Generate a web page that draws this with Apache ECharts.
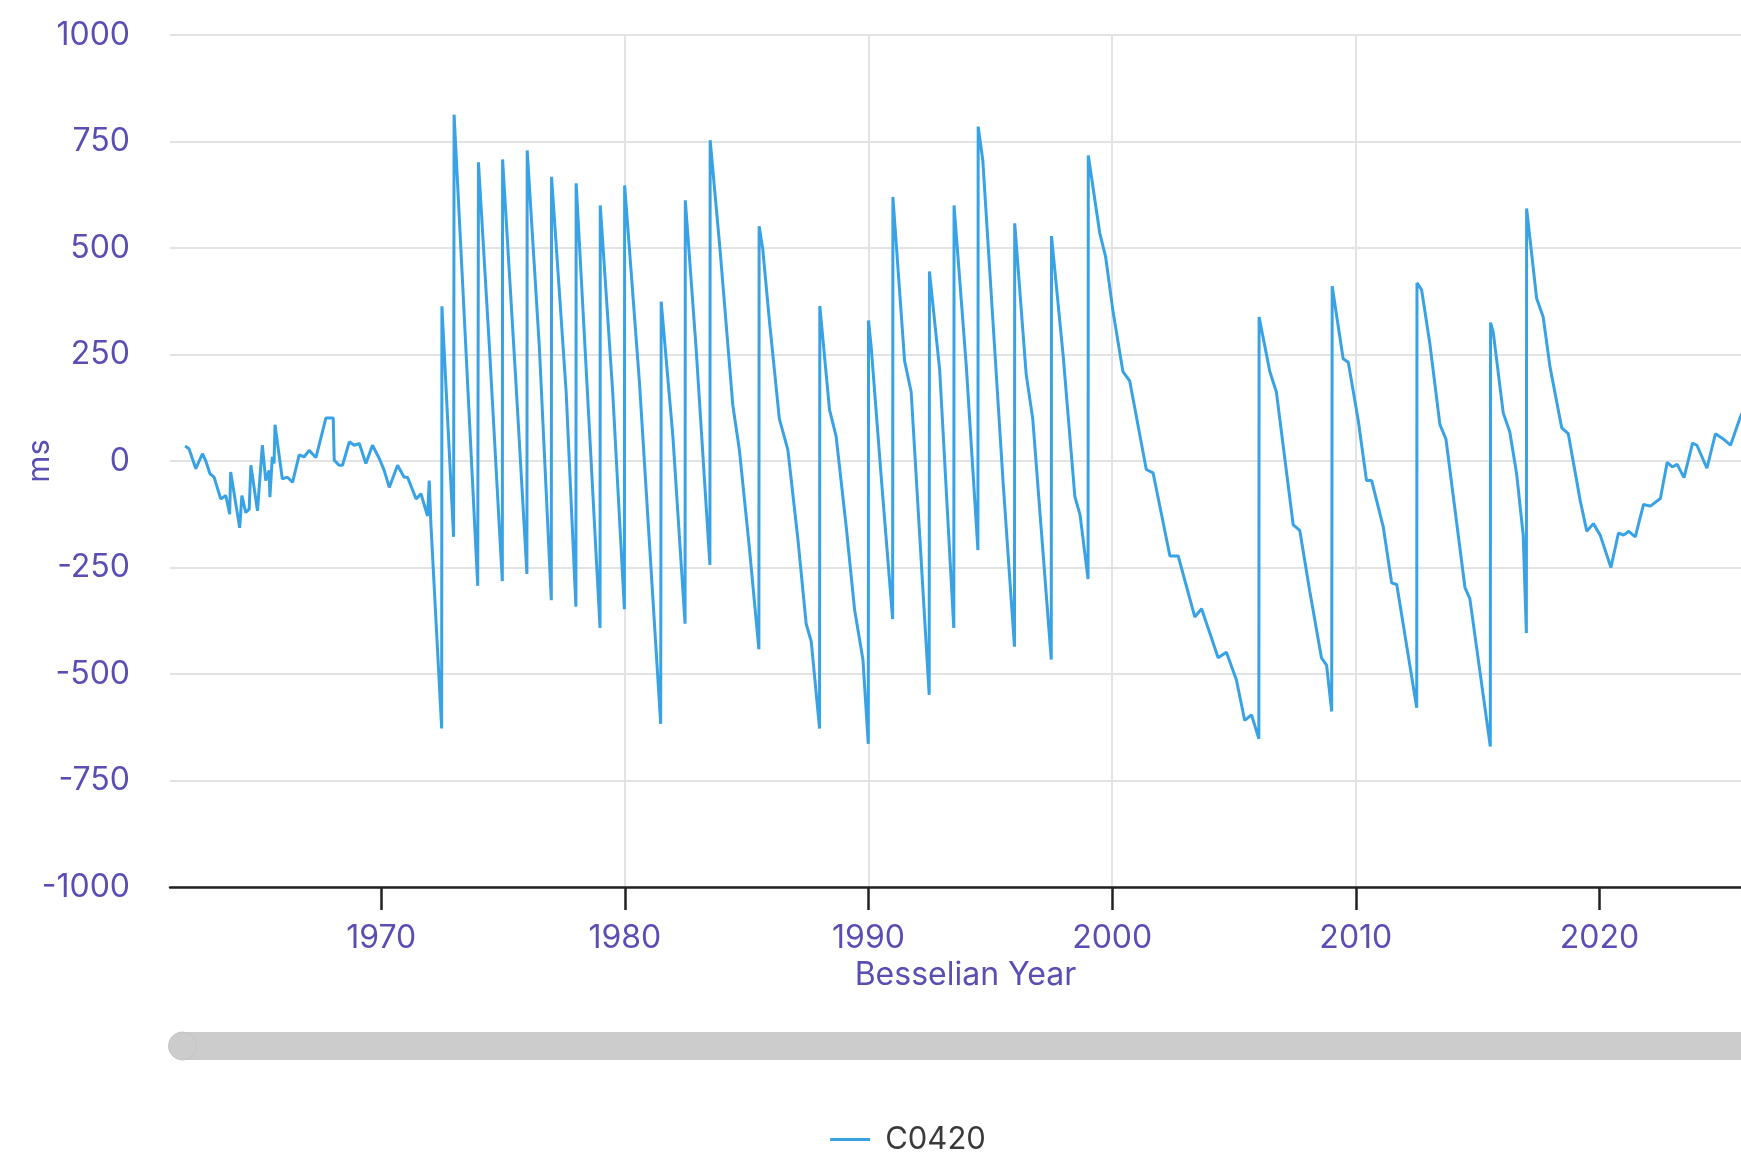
<!DOCTYPE html>
<html>
<head>
<meta charset="utf-8">
<title>UT1-UTC (C0420)</title>
<script src="https://cdn.jsdelivr.net/npm/echarts@6/dist/echarts.min.js"></script>
<style>
  html, body { margin: 0; padding: 0; background: #ffffff; overflow: hidden; }
  #chart { width: 1816px; height: 1152px; }
</style>
</head>
<body>
<div id="chart"></div>
<script>
// Besselian year of each sample
const years = [
  1961.95, 1962.11, 1962.39, 1962.66, 1962.80, 1962.97, 1963.14, 1963.41, 1963.62, 1963.78,
  1963.82, 1964.19, 1964.28, 1964.44, 1964.58, 1964.65, 1964.92, 1965.12, 1965.26, 1965.40,
  1965.43, 1965.53, 1965.60, 1965.64, 1965.94, 1966.15, 1966.36, 1966.63, 1966.84, 1967.04,
  1967.32, 1967.73, 1968.03, 1968.07, 1968.27, 1968.41, 1968.69, 1968.89, 1969.10, 1969.37,
  1969.64, 1969.92, 1970.12, 1970.33, 1970.67, 1970.94, 1971.08, 1971.43, 1971.63, 1971.90,
  1971.97, 1972.04, 1972.48, 1972.49, 1972.97, 1972.99, 1973.27, 1973.96, 1973.99, 1974.44,
  1974.97, 1974.98, 1975.53, 1975.98, 1975.99, 1976.49, 1976.98, 1976.99, 1977.59, 1977.99,
  1978.00, 1978.54, 1978.98, 1978.99, 1979.50, 1979.98, 1979.99, 1980.60, 1981.47, 1981.49,
  1981.97, 1982.47, 1982.48, 1982.92, 1983.49, 1983.50, 1983.90, 1984.43, 1984.70, 1985.11,
  1985.50, 1985.51, 1985.66, 1985.93, 1986.34, 1986.69, 1987.10, 1987.44, 1987.65, 1987.99,
  1988.00, 1988.40, 1988.67, 1989.08, 1989.43, 1989.77, 1989.99, 1990.00, 1990.11, 1990.52,
  1990.99, 1991.00, 1991.48, 1991.75, 1992.49, 1992.50, 1992.92, 1993.50, 1993.51, 1994.01,
  1994.49, 1994.50, 1994.69, 1995.52, 1995.99, 1996.00, 1996.47, 1996.74, 1997.50, 1997.51,
  1997.99, 1998.47, 1998.68, 1999.01, 1999.02, 1999.49, 1999.73, 2000.03, 2000.44, 2000.72,
  2001.06, 2001.40, 2001.68, 2002.37, 2002.71, 2003.39, 2003.67, 2004.35, 2004.69, 2005.10,
  2005.44, 2005.72, 2006.02, 2006.03, 2006.47, 2006.74, 2007.43, 2007.70, 2008.11, 2008.59,
  2008.80, 2009.01, 2009.03, 2009.48, 2009.69, 2010.10, 2010.44, 2010.65, 2011.13, 2011.47,
  2011.68, 2012.50, 2012.51, 2012.70, 2013.04, 2013.45, 2013.70, 2014.48, 2014.68, 2015.52,
  2015.53, 2015.64, 2016.05, 2016.32, 2016.60, 2016.87, 2017.00, 2017.01, 2017.42, 2017.69,
  2017.97, 2018.45, 2018.72, 2019.21, 2019.48, 2019.75, 2020.03, 2020.47, 2020.78, 2020.99,
  2021.20, 2021.47, 2021.81, 2022.09, 2022.50, 2022.78, 2022.99, 2023.19, 2023.47, 2023.82,
  2024.00, 2024.41, 2024.76, 2025.10, 2025.38, 2025.76, 2025.85
];

// UT1-UTC in milliseconds, one value per year above
const offsetMs = [
  35, 29, -18, 17, 0, -30, -38, -89, -81, -125,
  -26, -157, -81, -121, -113, -10, -117, 37, -46, -22,
  -85, 10, -6, 85, -42, -38, -50, 14, 10, 25,
  8, 101, 101, 2, -10, -10, 45, 37, 41, -6,
  37, 6, -22, -62, -10, -38, -38, -89, -77, -129,
  -46, -150, -628, 363, -178, 813, 497, -293, 701, 267,
  -282, 708, 183, -265, 729, 267, -327, 667, 162, -342,
  652, 79, -392, 600, 162, -348, 647, 183, -617, 374,
  58, -382, 612, 267, -244, 753, 500, 131, 26, -204,
  -442, 551, 497, 330, 99, 26, -183, -382, -424, -628,
  364, 120, 58, -152, -350, -466, -664, 330, 267, -37,
  -371, 620, 235, 162, -549, 445, 214, -392, 600, 225,
  -209, 785, 706, -47, -436, 558, 204, 99, -466, 528,
  246, -84, -126, -277, 717, 535, 480, 353, 210, 188,
  84, -20, -28, -223, -223, -366, -347, -462, -449, -514,
  -609, -596, -652, 338, 210, 162, -150, -163, -306, -462,
  -479, -588, 410, 240, 232, 95, -46, -46, -156, -286,
  -290, -579, 418, 402, 275, 86, 51, -297, -323, -670,
  325, 302, 113, 68, -30, -174, -404, 593, 382, 338,
  221, 78, 64, -93, -165, -147, -174, -250, -169, -174,
  -165, -178, -102, -106, -88, -3, -14, -8, -39, 42,
  37, -17, 64, 51, 37, 100, 112
];

// Labelled years on the horizontal axis
const yearTicks = [1970, 1980, 1990, 2000, 2010, 2020];

const seriesName = 'C0420';
const axisColor = '#5a4db3';
const lineColor = '#38a2e5';
const fontFamily = 'Inter, "Noto Sans", sans-serif';

const points = years.map((y, i) => [y, offsetMs[i]]);

const chart = echarts.init(document.getElementById('chart'), null, { renderer: 'canvas' });

chart.setOption({
  animation: false,
  backgroundColor: '#ffffff',
  grid: { left: 170, right: 55, top: 35, bottom: 265, outerBoundsMode: 'none' },
  legend: {
    data: [seriesName],
    left: 'center',
    top: 1119,
    icon: 'rect',
    itemWidth: 40,
    itemHeight: 3,
    textStyle: { color: '#3a3a3a', fontSize: 31, fontFamily: fontFamily, padding: [0, 0, 0, 10] }
  },
  xAxis: {
    type: 'value',
    min: 1961.33,
    max: 2026.63,
    name: 'Besselian Year',
    nameLocation: 'middle',
    nameGap: 71,
    nameTextStyle: { color: axisColor, fontSize: 32, fontFamily: fontFamily },
    axisLine: { show: true, onZero: false, lineStyle: { color: '#222222', width: 2.5 } },
    axisTick: { show: true, length: 23, customValues: yearTicks, lineStyle: { color: '#222222', width: 2.5 } },
    axisLabel: {
      customValues: yearTicks,
      color: axisColor, fontSize: 32, fontFamily: fontFamily, margin: 35,
      formatter: v => String(v)
    },
    splitLine: { show: true, showMinLine: false, showMaxLine: false, lineStyle: { color: '#e3e3e3', width: 2 } }
  },
  yAxis: {
    type: 'value',
    min: -1000,
    max: 1000,
    interval: 250,
    name: 'ms',
    nameLocation: 'middle',
    nameGap: 115,
    nameMoveOverlap: false,
    nameTextStyle: { color: axisColor, fontSize: 31, fontFamily: fontFamily },
    axisLine: { show: false },
    axisTick: { show: false },
    axisLabel: { color: axisColor, fontSize: 32, fontFamily: fontFamily, margin: 40, formatter: v => String(v) },
    splitLine: { show: true, lineStyle: { color: '#e3e3e3', width: 2 } }
  },
  dataZoom: [{
    type: 'slider',
    xAxisIndex: 0,
    start: 0,
    end: 100,
    filterMode: 'none',
    left: 180,
    right: 55,
    top: 1032,
    height: 28,
    showDetail: false,
    showDataShadow: false,
    brushSelect: false,
    borderColor: 'transparent',
    borderRadius: 14,
    backgroundColor: '#cccccc',
    fillerColor: 'rgba(204,204,204,0)',
    handleIcon: 'circle',
    handleSize: '100%',
    handleStyle: { color: '#cccccc', borderColor: '#c4c4c4', borderWidth: 1, opacity: 1 },
    moveHandleSize: 0,
    emphasis: { handleStyle: { color: '#cccccc', borderColor: '#c4c4c4' } }
  }],
  series: [{
    name: seriesName,
    type: 'line',
    data: points,
    symbol: 'none',
    showSymbol: false,
    lineStyle: { color: lineColor, width: 3 },
    itemStyle: { color: lineColor }
  }]
});
</script>
</body>
</html>
